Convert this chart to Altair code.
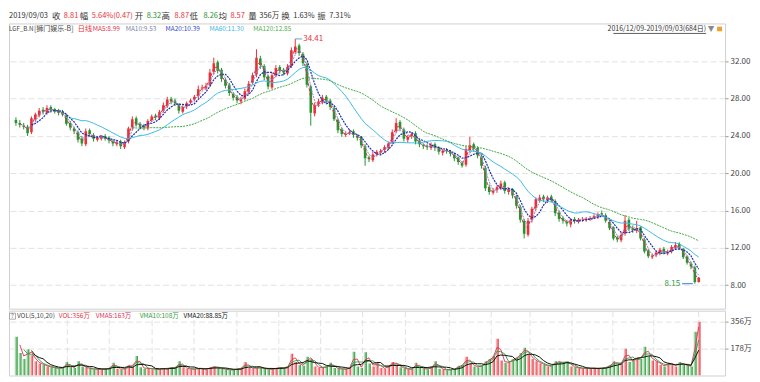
import altair as alt
import pandas as pd

FONT = "Noto Sans CJK SC"
RED = "#e8323a"
GREEN = "#22962f"
DARK = "#333333"

# ---------------- data (mostly 4-trading-day bins) ----------------
closes = [25.4, 25.2, 25.0, 24.3, 25.9, 26.3, 26.7, 26.6, 27.0, 26.8,
          26.6, 26.5, 26.3, 25.3, 24.9, 24.5, 23.6, 23.2, 24.5, 24.2,
          23.7, 23.8, 23.9, 23.7, 23.5, 23.2, 23.3, 22.9, 23.3, 24.8,
          25.8, 25.2, 25.0, 24.9, 25.6, 26.1, 26.0, 26.6, 27.3, 27.9,
          27.7, 27.5, 26.7, 27.1, 27.5, 27.8, 28.2, 29.0, 29.2, 29.4,
          30.8, 31.8, 31.0, 30.1, 29.4, 28.6, 28.1, 27.8, 27.9, 28.8,
          29.6, 30.5, 32.4, 31.6, 30.3, 29.3, 30.5, 31.3, 31.0, 30.8,
          31.4, 33.2, 33.6, 32.9, 31.8, 29.5, 26.5, 27.3, 27.7, 28.1,
          27.7, 27.1, 25.8, 24.6, 24.2, 24.2, 24.4, 24.1, 23.8, 23.0,
          21.6, 21.5, 22.0, 22.3, 22.4, 22.8, 23.2, 24.4, 25.4, 24.8,
          23.7, 23.9, 24.2, 23.4, 23.1, 22.9, 22.8, 23.0, 22.7, 22.3,
          22.4, 22.4, 22.1, 21.6, 21.2, 20.8, 22.6, 23.0, 22.6, 21.9,
          20.8, 18.4, 18.0, 18.1, 18.5, 18.9, 18.1, 18.2, 17.6, 16.5,
          15.0, 13.5, 14.9, 16.2, 17.2, 17.4, 17.2, 17.4, 17.1, 15.7,
          15.1, 14.9, 14.6, 15.0, 14.9, 15.0, 15.1, 15.1, 15.2, 15.4,
          15.6, 15.6, 14.9, 14.1, 13.0, 12.9, 13.4, 14.9, 14.0, 13.9,
          14.1, 13.0, 11.6, 11.1, 11.1, 11.5, 11.8, 11.5, 11.5, 12.1,
          12.3, 12.0, 11.0, 10.4, 10.0, 8.34, 8.81]
opens = [25.7, 25.4, 25.1, 25.0, 24.4, 25.8, 26.2, 26.8, 26.5, 27.1,
         26.9, 26.7, 26.6, 26.2, 25.4, 24.8, 24.4, 23.7, 23.1, 24.6,
         24.1, 23.6, 23.7, 24.0, 23.8, 23.4, 23.1, 23.4, 22.8, 23.4,
         24.9, 25.9, 25.3, 25.1, 24.8, 25.7, 26.2, 25.9, 26.7, 27.2,
         28.0, 27.8, 27.4, 26.6, 27.2, 27.6, 27.9, 28.3, 29.1, 29.1,
         29.5, 30.9, 31.9, 31.1, 30.0, 29.5, 28.5, 28.2, 27.7, 28.0,
         28.7, 29.7, 30.6, 32.3, 31.5, 30.4, 29.2, 30.6, 31.4, 31.1,
         30.7, 31.5, 33.0, 33.7, 32.8, 31.7, 29.3, 26.4, 27.4, 27.6,
         28.2, 27.8, 27.0, 25.7, 24.7, 24.1, 24.3, 24.5, 24.0, 23.9,
         22.9, 21.7, 21.4, 22.1, 22.2, 22.5, 22.7, 23.3, 24.5, 25.5,
         24.7, 23.6, 24.0, 24.3, 23.5, 23.0, 22.9, 22.7, 23.1, 22.8,
         22.2, 22.5, 22.3, 22.0, 21.7, 21.1, 20.9, 22.5, 23.1, 22.7,
         21.8, 20.6, 18.5, 17.9, 18.2, 18.4, 19.0, 18.0, 18.3, 17.5,
         16.4, 14.9, 13.4, 15.0, 16.3, 17.1, 17.5, 17.1, 17.5, 17.0,
         15.8, 15.2, 14.8, 14.5, 15.1, 14.8, 15.1, 15.0, 15.1, 15.3,
         15.3, 15.7, 15.5, 14.8, 14.2, 13.1, 12.8, 13.5, 15.0, 14.1,
         13.8, 14.2, 12.9, 11.7, 11.0, 11.2, 11.4, 11.9, 11.4, 11.6,
         12.0, 12.4, 11.9, 11.1, 10.3, 9.9, 8.32]
highs = [26.0, 25.7, 25.4, 25.2, 26.1, 26.5, 27.0, 27.1, 27.3, 27.3,
         27.0, 26.9, 26.8, 26.4, 25.6, 25.0, 24.6, 24.0, 24.8, 24.8,
         24.3, 24.0, 24.1, 24.2, 24.0, 23.6, 23.5, 23.6, 23.5, 25.0,
         26.1, 26.1, 25.5, 25.3, 25.8, 26.3, 26.4, 26.8, 27.6, 28.2,
         28.2, 28.0, 27.5, 27.3, 27.7, 28.0, 28.4, 29.4, 29.5, 29.7,
         31.2, 32.4, 32.1, 31.3, 30.2, 29.7, 28.7, 28.4, 28.2, 29.1,
         29.9, 30.8, 33.3, 32.6, 31.7, 30.6, 30.8, 31.6, 31.6, 31.3,
         31.7, 33.5, 34.41, 33.9, 33.0, 31.9, 29.5, 27.6, 28.0, 28.4,
         28.4, 28.0, 27.2, 25.9, 24.9, 24.5, 24.7, 24.7, 24.2, 24.0,
         23.1, 21.9, 22.3, 22.5, 22.6, 23.0, 23.4, 24.7, 25.9, 25.7,
         24.9, 24.1, 24.4, 24.5, 23.7, 23.2, 23.1, 23.3, 23.3, 22.9,
         22.6, 22.7, 22.5, 22.2, 21.8, 21.3, 22.9, 23.9, 23.3, 22.9,
         22.0, 20.8, 18.8, 18.4, 18.7, 19.2, 19.2, 18.5, 18.4, 17.7,
         16.6, 15.1, 15.2, 16.4, 17.4, 17.7, 17.7, 17.6, 17.7, 17.2,
         16.0, 15.4, 15.0, 15.2, 15.3, 15.2, 15.3, 15.3, 15.4, 15.6,
         15.8, 16.0, 15.7, 15.0, 14.3, 13.3, 13.6, 15.5, 15.2, 14.4,
         14.9, 14.3, 13.1, 11.9, 11.4, 11.7, 12.0, 12.1, 11.8, 12.3,
         12.6, 12.6, 12.0, 11.2, 10.5, 10.1, 8.87]
lows = [25.1, 24.9, 24.7, 24.0, 24.2, 25.6, 26.0, 26.3, 26.3, 26.5,
        26.4, 26.2, 26.1, 25.1, 24.6, 24.2, 23.3, 22.9, 22.9, 23.9,
        23.4, 23.4, 23.5, 23.5, 23.2, 22.9, 22.9, 22.6, 22.6, 23.2,
        24.6, 25.0, 24.7, 24.6, 24.6, 25.5, 25.7, 25.7, 26.5, 27.0,
        27.4, 27.2, 26.4, 26.4, 26.9, 27.4, 27.7, 28.0, 28.9, 28.9,
        29.3, 30.6, 30.7, 29.8, 29.1, 28.3, 27.8, 27.5, 27.4, 27.8,
        28.5, 29.5, 30.3, 31.2, 30.0, 29.0, 29.0, 30.3, 30.7, 30.5,
        30.5, 31.3, 32.8, 32.6, 31.5, 29.2, 25.1, 26.1, 27.1, 27.4,
        27.5, 26.8, 25.6, 24.3, 23.9, 23.9, 24.1, 23.8, 23.5, 22.7,
        20.8, 21.2, 21.2, 21.8, 22.0, 22.2, 22.5, 23.1, 24.3, 24.5,
        23.4, 23.3, 23.7, 23.1, 22.8, 22.6, 22.5, 22.5, 22.4, 22.0,
        21.9, 22.1, 21.8, 21.3, 20.9, 20.6, 20.7, 22.2, 22.3, 21.6,
        20.5, 18.1, 17.7, 17.7, 17.9, 18.2, 17.8, 17.7, 17.3, 16.2,
        14.7, 13.0, 13.2, 14.7, 16.0, 16.9, 16.9, 16.8, 16.9, 15.4,
        14.8, 14.6, 14.3, 14.2, 14.6, 14.6, 14.8, 14.8, 14.9, 15.1,
        15.1, 15.4, 14.7, 13.9, 12.8, 12.6, 12.6, 13.3, 13.8, 13.6,
        13.6, 12.8, 11.4, 10.9, 10.8, 11.0, 11.2, 11.3, 11.2, 11.4,
        11.9, 11.8, 10.8, 10.2, 9.7, 8.15, 8.26]
volumes = [257, 150, 110, 175, 135, 95, 80, 70, 60, 55,
           50, 45, 55, 90, 55, 50, 95, 60, 50, 45,
           40, 45, 40, 45, 50, 85, 45, 40, 50, 70,
           60, 130, 55, 45, 50, 40, 45, 40, 50, 45,
           55, 50, 95, 55, 45, 40, 45, 50, 45, 40,
           55, 60, 50, 45, 40, 35, 40, 45, 50, 90,
           50, 45, 55, 50, 45, 40, 45, 50, 55, 50,
           60, 145, 90, 70, 65, 125, 110, 60, 50, 55,
           60, 85, 50, 45, 40, 45, 55, 158, 60, 50,
           155, 80, 60, 85, 50, 45, 70, 90, 75, 55,
           45, 40, 45, 85, 50, 45, 40, 60, 95, 45,
           40, 35, 40, 45, 65, 70, 125, 80, 60, 55,
           70, 95, 110, 130, 244, 100, 85, 90, 110, 120,
           150, 184, 140, 110, 95, 80, 70, 60, 65, 95,
           90, 80, 95, 60, 55, 50, 45, 50, 45, 50,
           45, 50, 55, 70, 95, 75, 80, 178, 90, 100,
           120, 110, 191, 130, 100, 95, 70, 60, 85, 75,
           60, 90, 70, 65, 60, 290, 356]

# bin positions of the two-month grid lines (Mar 2017 ... Sep 2019)
month_ticks = [13.25, 24, 35, 45.75, 56.75, 67.5, 78.5, 89.25, 100.25,
               111.5, 122.25, 132.5, 143.25, 153.75, 164.25, 175.75]
price_ticks = [8, 12, 16, 20, 24, 28, 32]
vol_ticks = [178, 356]

# moving averages: name, window in bins, colour, dash, width
ma_specs = [("MA5", 2, "#e0304a", [3, 2], 1.0),
            ("MA10", 3, "#8c8cd0", [2, 1], 1.0),
            ("MA20", 5, "#1f2fa8", [2, 1], 1.2),
            ("MA60", 15, "#3cbce6", None, 1.0),
            ("MA120", 31, "#3fa83f", [2, 1], 1.0)]
vma_specs = [("VMA5", 2, "#e0305a", 0.9),
             ("VMA10", 3, "#2f9e3a", 0.9),
             ("VMA20", 5, "#111111", 1.0)]

# header text: text, x in chart pixels, colour, font size
header1 = [("2019/09/03", 0, DARK, 7.5), ("收", 43, DARK, 8.5), ("8.81", 55, RED, 7.5),
           ("幅", 71, DARK, 8.5), ("5.64%(0.47)", 83, RED, 7.5), ("开", 126, DARK, 8.5),
           ("8.32", 138, GREEN, 7.5), ("高", 153, DARK, 8.5), ("8.87", 166, RED, 7.5),
           ("低", 181, DARK, 8.5), ("8.26", 195, GREEN, 7.5), ("均", 210, DARK, 8.5),
           ("8.57", 222, RED, 7.5), ("量", 240, DARK, 8.5), ("356万", 251, DARK, 7.5),
           ("换", 273, DARK, 8.5), ("1.63%", 285, DARK, 7.5), ("振", 309, DARK, 8.5),
           ("7.31%", 321, DARK, 7.5)]
header2 = [("LGF_B.N", 0, "#444444", 6.2), ("[狮门娱乐-B]", 25, "#444444", 7.0),
           ("日线", 69, RED, 7.2), ("MA5:8.99", 84, "#e0304a", 6.5),
           ("MA10:9.53", 117, "#7a86a8", 6.5), ("MA20:10.39", 157, "#3048c8", 6.5),
           ("MA60:11.30", 201, "#3cb4e0", 6.5), ("MA120:12.85", 245, "#4fae4f", 6.5)]
header3 = [("VOL(5,10,20)", 8, "#444444"), ("VOL:356万", 50, RED),
           ("VMA5:163万", 87, "#e0305a"), ("VMA10:108万", 131, "#2f9e3a"),
           ("VMA20:88.85万", 175, "#111111")]
range_text = "2016/12/09-2019/09/03(684日)"

# ---------------- table ----------------
df = pd.DataFrame({"idx": list(range(len(closes))), "open": opens, "high": highs,
                   "low": lows, "close": closes, "vol": volumes})

W, H1, H2 = 718, 286, 65
XDOM = [-0.5, 181.5]
GRID = "#e2e2e2"
ROW1_Y, ROW2_Y = -7, 5.5

one = pd.DataFrame({"a": [0]})
xscale = alt.Scale(domain=XDOM, nice=False, zero=False)


def xenc():
    return alt.X("idx:Q", scale=xscale,
                 axis=alt.Axis(values=month_ticks, labels=False, ticks=False,
                               domain=False, grid=True, gridColor=GRID,
                               gridDash=[6, 3], title=None))


yscale = alt.Scale(domain=[5.47, 36.07], nice=False, zero=False)
yaxis = alt.Axis(orient="right", values=price_ticks, format=".2f", grid=True,
                 gridColor=GRID, gridDash=[6, 3], domain=False, tickSize=3,
                 tickColor="#999999", labelFontSize=8, labelColor="#444444",
                 labelFont=FONT, labelPadding=2, title=None)
updown = alt.condition("datum.close >= datum.open", alt.value(RED), alt.value(GREEN))


def label(text, x, y, color, size=8, align="left", font=FONT):
    return alt.Chart(one).mark_text(align=align, baseline="middle", fontSize=size,
                                    font=font, color=color).encode(
        x=alt.value(x), y=alt.value(y), text=alt.value(text))


main_layers = []
main_layers.append(alt.Chart(df).mark_rule(strokeWidth=1, clip=True).encode(
    x=xenc(), y=alt.Y("low:Q", scale=yscale, axis=yaxis), y2="high:Q", color=updown))
main_layers.append(alt.Chart(df).mark_bar(size=2.6, clip=True).encode(
    x=xenc(), y=alt.Y("open:Q", scale=yscale, axis=yaxis), y2="close:Q", color=updown))

for name, n, col, dash, sw in ma_specs:
    kw = dict(color=col, strokeWidth=sw, clip=True)
    if dash:
        kw["strokeDash"] = dash
    main_layers.append(
        alt.Chart(df).transform_window(
            ma="mean(close)", cnt="count()", frame=[-(n - 1), 0],
            sort=[alt.SortField("idx", order="ascending")]
        ).transform_filter(f"datum.cnt >= {n}").mark_line(**kw).encode(
            x=xenc(), y=alt.Y("ma:Q", scale=yscale, axis=yaxis)))

# highest / lowest annotations
hi = alt.Chart(df).transform_joinaggregate(mx="max(high)").transform_filter(
    "datum.high == datum.mx").transform_calculate(x2="datum.idx + 1.8")
main_layers.append(hi.mark_rule(color="#5aa8c8", strokeWidth=1).encode(
    x=xenc(), x2="x2:Q", y=alt.Y("high:Q", scale=yscale, axis=yaxis)))
main_layers.append(hi.mark_text(align="left", baseline="middle", dx=1, fontSize=8,
                                font=FONT, color=RED).encode(
    x=alt.X("x2:Q", scale=xscale, axis=None),
    y=alt.Y("high:Q", scale=yscale, axis=yaxis), text=alt.Text("high:Q", format=".2f")))

lo = alt.Chart(df).transform_joinaggregate(mn="min(low)").transform_filter(
    "datum.low == datum.mn").transform_calculate(xa="datum.idx - 3.3",
                                                  xb="datum.idx - 0.5")
main_layers.append(lo.mark_rule(color="#3a78d8", strokeWidth=1).encode(
    x=alt.X("xa:Q", scale=xscale, axis=None),
    x2="xb:Q", y=alt.Y("low:Q", scale=yscale, axis=yaxis)))
main_layers.append(lo.mark_text(align="right", baseline="middle", dx=-2, fontSize=8,
                                font=FONT, color="#2f9e3a").encode(
    x=alt.X("xa:Q", scale=xscale, axis=None),
    y=alt.Y("low:Q", scale=yscale, axis=yaxis), text=alt.Text("low:Q", format=".2f")))

# header rows
for t, px, c, s in header1:
    main_layers.append(label(t, px, ROW1_Y, c, size=s))
for t, px, c, s in header2:
    main_layers.append(label(t, px, ROW2_Y, c, size=s))
main_layers.append(label(range_text, 699, ROW2_Y, DARK, size=7, align="right"))
main_layers.append(alt.Chart(one).mark_rule(color=DARK, strokeWidth=0.8).encode(
    x=alt.value(606), x2=alt.value(699), y=alt.value(ROW2_Y + 4.5)))
main_layers.append(label("▼", 704, ROW2_Y, "#888888", size=8, align="center",
                         font="DejaVu Sans"))
main_layers.append(alt.Chart(one).mark_rect(color="#f0a030").encode(
    x=alt.value(710), x2=alt.value(715), y=alt.value(ROW2_Y - 2.3),
    y2=alt.value(ROW2_Y + 2.3)))

main = alt.layer(*main_layers).properties(width=W, height=H1)

# ---------------- volume panel ----------------
vscale = alt.Scale(domain=[0, 430], nice=False, zero=False)
vaxis = alt.Axis(orient="right", values=vol_ticks, labelExpr="datum.value + '万'",
                 grid=True, gridColor=GRID, gridDash=[6, 3], domain=False,
                 tickSize=3, tickColor="#999999", labelFontSize=8,
                 labelColor="#444444", labelFont=FONT, labelPadding=2, title=None)

vol_layers = []
for cond, col in [("datum.close >= datum.open", RED), ("datum.close < datum.open", GREEN)]:
    grad = alt.Gradient(gradient="linear",
                        stops=[alt.GradientStop(color="#ffffff", offset=0),
                               alt.GradientStop(color=col, offset=1)],
                        x1=0, x2=1, y1=0, y2=0)
    vol_layers.append(alt.Chart(df).transform_filter(cond).mark_bar(
        size=3.6, color=grad, clip=True).encode(
        x=xenc(), y=alt.Y("vol:Q", scale=vscale, axis=vaxis), y2=alt.datum(0)))

for name, n, col, sw in vma_specs:
    vol_layers.append(
        alt.Chart(df).transform_window(
            vm="mean(vol)", cnt="count()", frame=[-(n - 1), 0],
            sort=[alt.SortField("idx", order="ascending")]
        ).transform_filter(f"datum.cnt >= {n}").mark_line(
            color=col, strokeWidth=sw, clip=True).encode(
            x=xenc(), y=alt.Y("vm:Q", scale=vscale, axis=vaxis)))

vol_layers.append(alt.Chart(one).mark_rect(fill="#ffffff", stroke="#999999",
                                           strokeWidth=0.8).encode(
    x=alt.value(0.5), x2=alt.value(6.5), y=alt.value(2.5), y2=alt.value(8.5)))
vol_layers.append(label("?", 3.5, 5.5, "#555555", size=6, align="center"))
for t, px, c in header3:
    vol_layers.append(label(t, px, 5.5, c, size=6.5))

vol = alt.layer(*vol_layers).properties(width=W, height=H2)

chart = alt.vconcat(main, vol, spacing=0).properties(
    padding={"top": 3, "left": 0, "right": 0, "bottom": 0}).configure_view(
    stroke="#d0d0d0", strokeWidth=1)

chart.save("out.html", embed_options={"renderer": "svg", "actions": False})
